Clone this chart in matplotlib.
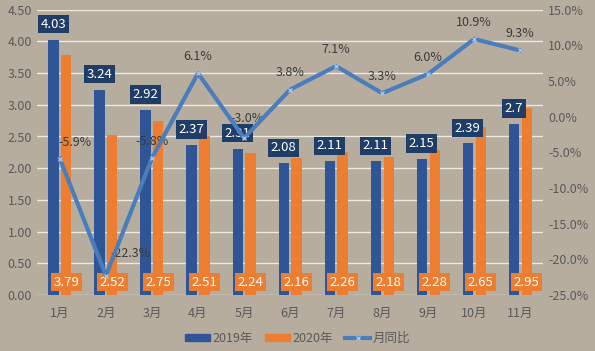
import numpy as np
import matplotlib.pyplot as plt
from matplotlib.patches import Patch
from matplotlib.lines import Line2D

plt.rcParams['font.family'] = ['Noto Sans CJK SC', 'DejaVu Sans']

months = ['1月', '2月', '3月', '4月', '5月', '6月', '7月', '8月', '9月', '10月', '11月']
v2019 = [4.03, 3.24, 2.92, 2.37, 2.31, 2.08, 2.11, 2.11, 2.15, 2.39, 2.7]
v2020 = [3.79, 2.52, 2.75, 2.51, 2.24, 2.16, 2.26, 2.18, 2.28, 2.65, 2.95]
yoy = [-5.9, -22.3, -5.8, 6.1, -3.0, 3.8, 7.1, 3.3, 6.0, 10.9, 9.3]
labels_2019 = ['4.03', '3.24', '2.92', '2.37', '2.31', '2.08', '2.11', '2.11', '2.15', '2.39', '2.7']

bg = '#b7ad9f'
blue = '#2f5597'
orange = '#ed7d31'
navy = '#1f3d66'
line_c = '#4a7dbb'
gray = '#595959'

fig = plt.figure(figsize=(5.95, 3.51), dpi=100, facecolor=bg)
ax = fig.add_axes([0.062, 0.160, 0.851, 0.812])
ax.set_facecolor(bg)

x = np.arange(len(months))
w = 0.22
ax.bar(x - 0.14, v2019, w, color=blue, zorder=2)
ax.bar(x + 0.14, v2020, w, color=orange, zorder=2)

ax.set_xlim(-0.5, len(months) - 0.5)
ax.set_ylim(0, 4.5)
ax.set_yticks(np.arange(0, 4.51, 0.5))
ax.set_yticklabels(['%.2f' % v for v in np.arange(0, 4.51, 0.5)])
ax.set_xticks(x)
ax.set_xticklabels(months)
ax.tick_params(length=0, colors=gray, labelsize=9)
ax.tick_params(axis='x', pad=9)
ax.grid(axis='y', color='#ece8e2', lw=1, zorder=0)
for s in ax.spines.values():
    s.set_visible(False)

for i in range(len(months)):
    ax.annotate(labels_2019[i], (x[i] - 0.14, v2019[i]), xytext=(0, 11), textcoords='offset points',
                ha='center', va='center', color='white', fontsize=9.5, zorder=5,
                bbox=dict(boxstyle='square,pad=0.2', fc=navy, ec='none'))
    ax.annotate('%.2f' % v2020[i], (x[i] + 0.14, 0), xytext=(0, 9), textcoords='offset points',
                ha='center', va='center', color='white', fontsize=9.5, zorder=5,
                bbox=dict(boxstyle='square,pad=0.2', fc=orange, ec='none'))

ax2 = ax.twinx()
ax2.set_ylim(-25, 15)
ax2.set_yticks(np.arange(-25, 15.1, 5))
ax2.set_yticklabels(['%.1f%%' % v for v in np.arange(-25, 15.1, 5)])
ax2.tick_params(length=0, colors=gray, labelsize=9)
for s in ax2.spines.values():
    s.set_visible(False)
ax2.plot(x, yoy, color=line_c, lw=3, marker='x', ms=3, mec='#a9c1de', zorder=4)

offs = [(11, 12), (18, 16), (0, 12), (0, 12), (2, 14), (0, 12), (0, 12), (0, 12), (0, 12), (0, 12), (0, 12)]
for i in range(len(months)):
    ax2.annotate('%.1f%%' % yoy[i], (x[i], yoy[i]), xytext=offs[i], textcoords='offset points',
                 ha='center', va='center', color='#3a3a3a', fontsize=9, zorder=3)

handles = [Patch(color=blue), Patch(color=orange),
           Line2D([], [], color=line_c, lw=3, marker='x', ms=3, mec='#a9c1de')]
fig.legend(handles, ['2019年', '2020年', '月同比'], loc='center', bbox_to_anchor=(0.5, 0.035),
           ncol=3, frameon=False, fontsize=9, labelcolor=gray, handlelength=2.0, handleheight=0.5,
           columnspacing=1.0, handletextpad=0.2)

fig.savefig('out.png', dpi=100, facecolor=bg)
